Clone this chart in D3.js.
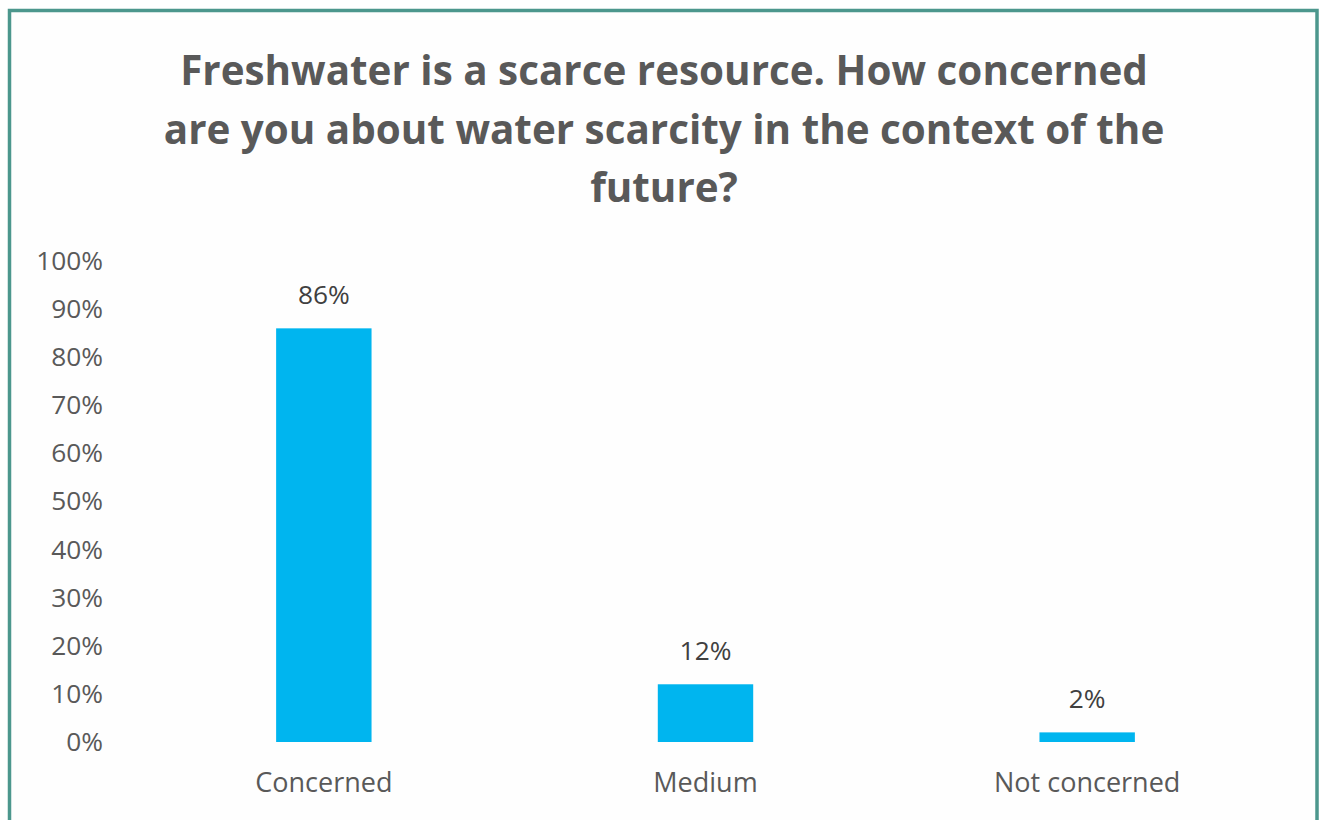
<!DOCTYPE html>
<html>
<head>
<meta charset="utf-8">
<script src="https://cdn.jsdelivr.net/npm/d3@7"></script>
<style>
  html, body { margin: 0; padding: 0; background: #ffffff; }
  svg { display: block; }
  text { font-family: "Open Sans", Lato, sans-serif; }
</style>
</head>
<body>
<svg id="chart" width="1320" height="820"></svg>
<script>
// Survey answers and their shares
const categories = ["Concerned", "Medium", "Not concerned"];
const shares = [0.86, 0.12, 0.02];
const tickValues = [0, 0.1, 0.2, 0.3, 0.4, 0.5, 0.6, 0.7, 0.8, 0.9, 1.0];
const titleLines = [
  "Freshwater is a scarce resource. How concerned",
  "are you about water scarcity in the context of the",
  "future?"
];

const svg = d3.select("#chart");
const FONT = "'Open Sans', Lato, sans-serif";

// Frame
svg.append("rect")
  .attr("x", 9.5).attr("y", 10.5)
  .attr("width", 1307.5).attr("height", 900)
  .attr("fill", "#fefefe")
  .attr("stroke", "#4c978d")
  .attr("stroke-width", 3.5);

// Title
const title = svg.append("text")
  .attr("text-anchor", "middle")
  .attr("fill", "#595959")
  .attr("font-weight", 700)
  .attr("font-size", 40.4);
titleLines.forEach((line, i) => {
  title.append("tspan")
    .attr("x", 664)
    .attr("y", 85 + i * 58.5)
    .text(line);
});

// Scales
const x = d3.scaleBand()
  .domain(categories)
  .range([133, 1278])
  .paddingInner(0.75)
  .paddingOuter(0.375);

const y = d3.scaleLinear()
  .domain([0, 1])
  .range([742, 261]);

// Y axis (labels only)
const yAxis = d3.axisLeft(y)
  .tickValues(tickValues)
  .tickFormat(d3.format(".0%"))
  .tickSize(0)
  .tickPadding(0);

const yg = svg.append("g")
  .attr("transform", "translate(103,0)")
  .call(yAxis);
yg.select(".domain").remove();
yg.selectAll("text")
  .attr("fill", "#595959")
  .attr("font-size", 26.3)
  .attr("font-family", FONT);

// X axis (labels only)
const xAxis = d3.axisBottom(x).tickSize(0).tickPadding(0);
const xg = svg.append("g")
  .attr("transform", "translate(0,742)")
  .call(xAxis);
xg.select(".domain").remove();
xg.selectAll("text")
  .attr("fill", "#595959")
  .attr("font-size", 27)
  .attr("font-family", FONT)
  .attr("dy", null)
  .attr("y", 50);

// Bars
const data = categories.map((c, i) => ({ category: c, value: shares[i] }));

svg.append("g")
  .selectAll("rect")
  .data(data)
  .join("rect")
  .attr("x", d => x(d.category))
  .attr("width", x.bandwidth())
  .attr("y", d => y(d.value))
  .attr("height", d => y(0) - y(d.value))
  .attr("fill", "#00b5ef");

// Value labels
svg.append("g")
  .selectAll("text")
  .data(data)
  .join("text")
  .attr("x", d => x(d.category) + x.bandwidth() / 2)
  .attr("y", d => y(d.value) - 24)
  .attr("text-anchor", "middle")
  .attr("fill", "#404040")
  .attr("font-size", 26.3)
  .text(d => d3.format(".0%")(d.value));
</script>
</body>
</html>
